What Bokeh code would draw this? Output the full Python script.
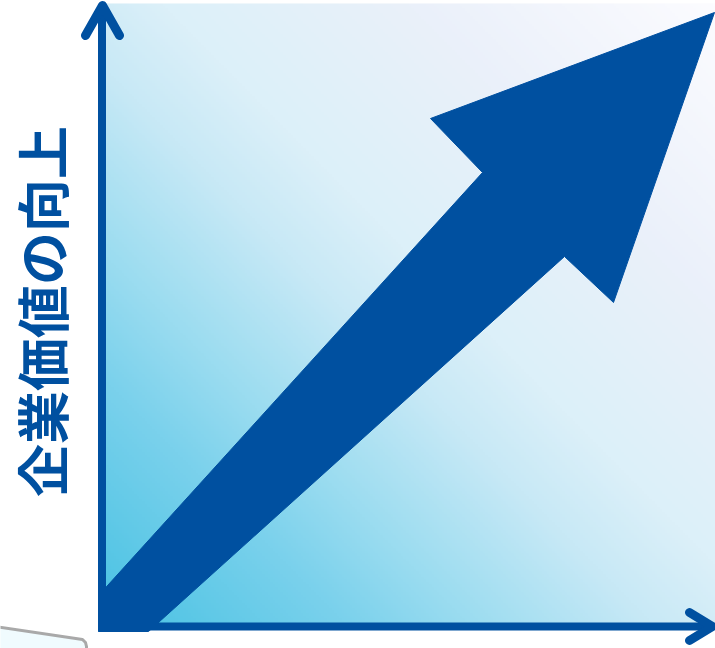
import numpy as np
from bokeh.plotting import figure
from bokeh.models import Range1d
from bokeh.core.properties import value
from bokeh.embed import file_html
from bokeh.resources import INLINE

# ---- diagram data (chart units: x right, y up, 715 x 648 canvas) ----
label_text = ["企業価値の向上"]
label_x = [40]
label_y = [337]

# background panel extent
panel_x = [100, 715]
panel_y = [22, 645]

# gradient colour stops (0 = bottom-left, 1 = top-right)
grad_pos = [0.0, 0.2, 0.3, 0.45, 0.55, 0.75, 1.0]
grad_col = ["#48c2e3", "#7ad1ec", "#9adcf0", "#c8e9f6", "#dcf0f9", "#eaf0fa", "#fcfcff"]

# big rising arrow outline
arrow_x = [98, 98, 482, 430, 714, 613, 564, 148]
arrow_y = [17, 53, 476, 530, 636, 346, 392, 17]

# axes (shaft + chevron head)
yaxis_x = [101.5, 101.5]
yaxis_y = [17, 640]
yhead_x = [85, 102, 119]
yhead_y = [613, 643, 613]

xaxis_x = [98, 710]
xaxis_y = [22, 22]
xhead_x = [689, 712, 689]
xhead_y = [36, 22, 8]

# partial grey box at the bottom-left
box_x = [-5, 82, 85, 86, 86, -5]
box_y = [22, 9, 6, 2, -5, -5]

DARK = "#0050a0"

p = figure(width=715, height=648, output_backend="svg", toolbar_location=None,
           x_range=Range1d(0, 715), y_range=Range1d(0, 648),
           min_border=0, border_fill_color="white", background_fill_color="white")
p.axis.visible = False
p.grid.visible = False
p.outline_line_color = None

# gradient background via rgba image
n = 240
xs = np.linspace(0, 1, n)
ys = np.linspace(0, 1, n)
XX, YY = np.meshgrid(xs, ys)
T = (XX + YY) / 2.0
def hex2rgb(h):
    h = h.lstrip("#")
    return [int(h[i:i + 2], 16) for i in (0, 2, 4)]
cols = np.array([hex2rgb(c) for c in grad_col], dtype=float)
img = np.empty((n, n), dtype=np.uint32)
view = img.view(dtype=np.uint8).reshape((n, n, 4))
for ch in range(3):
    view[:, :, ch] = np.interp(T, grad_pos, cols[:, ch]).astype(np.uint8)
view[:, :, 3] = 255
p.image_rgba(image=[img], x=panel_x[0], y=panel_y[0],
             dw=panel_x[1] - panel_x[0], dh=panel_y[1] - panel_y[0])

# grey partial box
p.patch(box_x, box_y, fill_color="#f0fbfe", line_color="#a9a9a9", line_width=3,
        line_join="round")

# big arrow
p.patch(arrow_x, arrow_y, fill_color=DARK, line_color=DARK, line_width=1)

# axes
p.line(yaxis_x, yaxis_y, line_color=DARK, line_width=8)
p.line(yhead_x, yhead_y, line_color=DARK, line_width=9, line_cap="round", line_join="round")
p.line(xaxis_x, xaxis_y, line_color=DARK, line_width=8)
p.line(xhead_x, xhead_y, line_color=DARK, line_width=9, line_cap="round", line_join="round")

# vertical label
p.text(x=label_x, y=label_y, text=label_text, angle=np.pi / 2,
       text_font=value("Noto Sans CJK JP"), text_font_style="bold",
       text_font_size="53px", text_color=DARK,
       text_align="center", text_baseline="middle")

open("out.html", "w").write(file_html(p, INLINE))
